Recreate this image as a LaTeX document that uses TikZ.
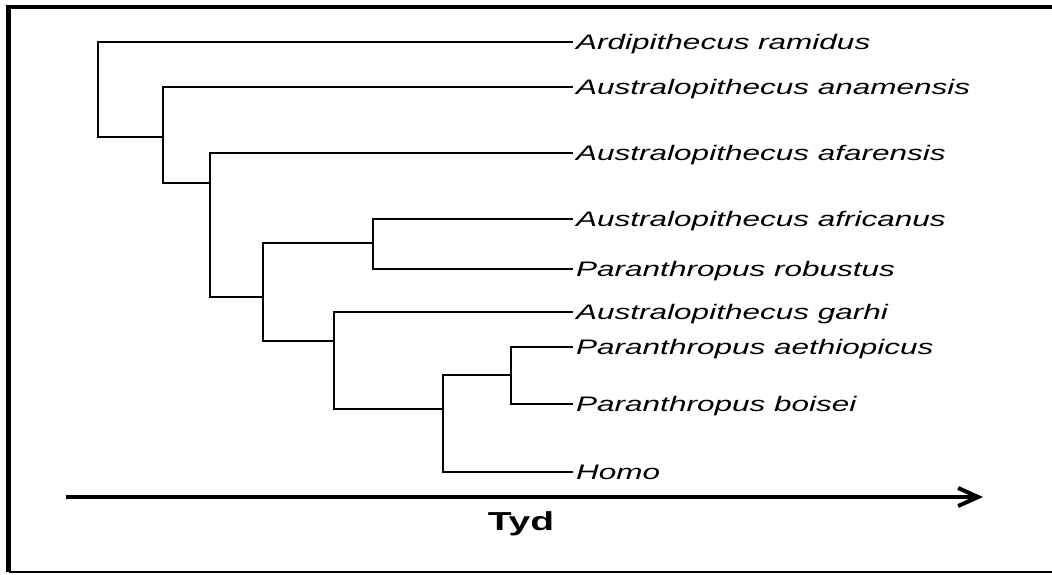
\documentclass[tikz,border=0pt]{standalone}
\usepackage{fontspec}
\setmainfont{Liberation Sans}
\usetikzlibrary{arrows.meta}
\tikzset{
  branch/.style={line width=2pt, line join=miter, line cap=rect},
  lab/.style={anchor=base west, inner sep=0pt, font=\fontsize{21}{24}\selectfont\itshape, yshift=-7.5pt},
  axis/.style={line width=4pt, -{Straight Barb[length=20pt,width=18pt,line width=4pt]}},
  axlab/.style={anchor=base, inner sep=0pt, font=\fontsize{26}{30}\selectfont\bfseries},
  frame/.style={line width=4.5pt}
}
\newcommand{\wide}[1]{\scalebox{1.5}[1]{#1}}
\begin{document}
\begin{tikzpicture}[x=1pt,y=-1pt]
\useasboundingbox (0,0) rectangle (1052,574);
% frame
\draw[frame] (1052,7) -- (8.5,7) -- (8.5,572);
\draw[line width=2.5pt] (8.5,572) -- (1052,572);
% internal nodes
\coordinate (root) at (98,137);
\coordinate (n2) at (163,137);
\coordinate (n3) at (210,183);
\coordinate (n4) at (263,297);
\coordinate (n5) at (373,243);
\coordinate (n6) at (334,341);
\coordinate (n7) at (443,409);
\coordinate (n8) at (511,375);
% leaves
\coordinate (ar) at (572,42);
\coordinate (an) at (572,87);
\coordinate (af) at (572,153);
\coordinate (afr) at (572,219);
\coordinate (rob) at (572,269);
\coordinate (gar) at (572,312);
\coordinate (aet) at (572,347);
\coordinate (boi) at (572,404);
\coordinate (hom) at (572,472);
% branches
\draw[branch] (root) |- (ar);
\draw[branch] (root) -- (n2);
\draw[branch] (n2) |- (an);
\draw[branch] (n2) |- (n3);
\draw[branch] (n3) |- (af);
\draw[branch] (n3) |- (n4);
\draw[branch] (n4) |- (n5);
\draw[branch] (n4) |- (n6);
\draw[branch] (n5) |- (afr);
\draw[branch] (n5) |- (rob);
\draw[branch] (n6) |- (gar);
\draw[branch] (n6) |- (n7);
\draw[branch] (n7) |- (n8);
\draw[branch] (n7) |- (hom);
\draw[branch] (n8) |- (aet);
\draw[branch] (n8) |- (boi);
% labels
\node[lab] (tar) at ([xshift=4pt]ar) {\wide{Ardipithecus ramidus}};
\node[lab] (tan) at ([xshift=4pt]an) {\wide{Australopithecus anamensis}};
\node[lab] (taf) at ([xshift=4pt]af) {\wide{Australopithecus afarensis}};
\node[lab] (tafr) at ([xshift=4pt]afr) {\wide{Australopithecus africanus}};
\node[lab] (trob) at ([xshift=4pt]rob) {\wide{Paranthropus robustus}};
\node[lab] (tgar) at ([xshift=4pt]gar) {\wide{Australopithecus garhi}};
\node[lab] (taet) at ([xshift=4pt]aet) {\wide{Paranthropus aethiopicus}};
\node[lab] (tboi) at ([xshift=4pt]boi) {\wide{Paranthropus boisei}};
\node[lab] (thom) at ([xshift=4pt]hom) {\wide{Homo}};
% time axis
\coordinate (t0) at (66,497);
\coordinate (t1) at (983,497);
\draw[axis] (t0) -- (t1);
\node[axlab] (tyd) at (521,530) {\wide{Tyd}};
\end{tikzpicture}
\end{document}
